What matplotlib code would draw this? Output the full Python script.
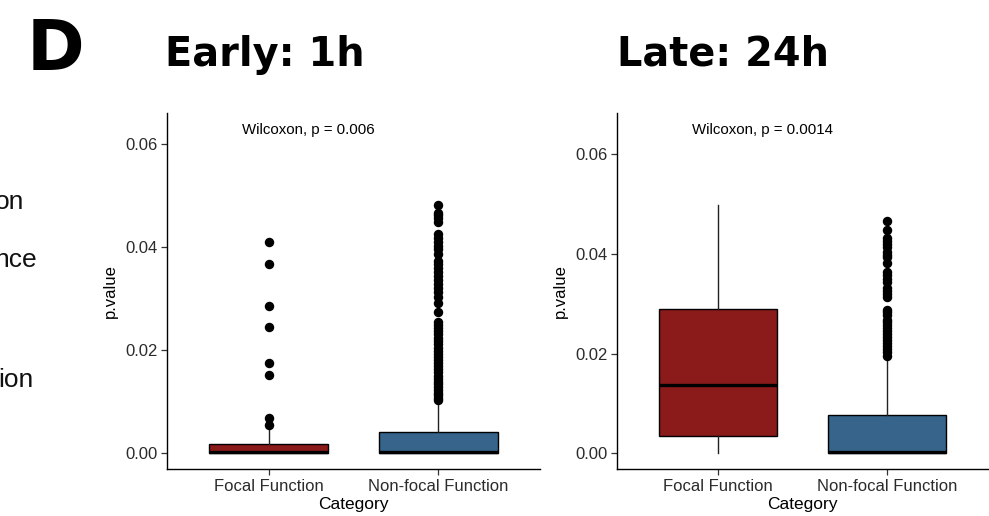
import matplotlib
matplotlib.use("Agg")
import matplotlib.pyplot as plt

# ---- data -------------------------------------------------------------
categories = ["Focal Function", "Non-focal Function"]
box_colors = ["#8B1A1A", "#36648B"]

# Early: 1h
early_q1 = [0.0, 0.0]
early_med = [0.0003, 0.0002]
early_q3 = [0.0019, 0.0041]
early_whislo = [0.0, 0.0]
early_whishi = [0.0048, 0.0100]
early_fliers_focal = [0.0055, 0.0069, 0.0153, 0.0175, 0.0245, 0.0287, 0.0367, 0.0410]
early_fliers_nonfocal = [
    0.0104, 0.0108, 0.0113, 0.0118, 0.0123, 0.0128, 0.0134, 0.0139, 0.0145,
    0.0151, 0.0157, 0.0163, 0.0169, 0.0175, 0.0181, 0.0187, 0.0193, 0.0199,
    0.0205, 0.0212, 0.0218, 0.0224, 0.0231, 0.0237, 0.0243, 0.0249, 0.0255,
    0.0274, 0.0292, 0.0304, 0.0314, 0.0321, 0.0329, 0.0336, 0.0344, 0.0352,
    0.0360, 0.0367, 0.0373, 0.0387, 0.0396, 0.0402, 0.0410, 0.0418, 0.0426,
    0.0449, 0.0457, 0.0462, 0.0466, 0.0482,
]
early_label = "Wilcoxon, p = 0.006"

# Late: 24h
late_q1 = [0.0035, 0.0]
late_med = [0.0137, 0.0002]
late_q3 = [0.0290, 0.0077]
late_whislo = [0.0, 0.0]
late_whishi = [0.0498, 0.0192]
late_fliers_focal = []
late_fliers_nonfocal = [
    0.0195, 0.0203, 0.0209, 0.0215, 0.0221, 0.0228, 0.0234, 0.0240, 0.0246,
    0.0252, 0.0258, 0.0263, 0.0268, 0.0278, 0.0283, 0.0288, 0.0314, 0.0320,
    0.0326, 0.0332, 0.0344, 0.0350, 0.0357, 0.0364, 0.0382, 0.0394, 0.0399,
    0.0404, 0.0414, 0.0420, 0.0426, 0.0432, 0.0448, 0.0467,
]
late_label = "Wilcoxon, p = 0.0014"

yticks = [0.00, 0.02, 0.04, 0.06]
ytick_labels = ["0.00", "0.02", "0.04", "0.06"]

# ---- figure -----------------------------------------------------------
plt.rcParams["font.family"] = ["Liberation Sans", "DejaVu Sans"]
fig = plt.figure(figsize=(9.89, 5.16), dpi=100)

TEXT_GREY = "#2b2b2b"


def draw_panel(ax, q1, med, q3, wlo, whi, fliers, label, ylim, label_y):
    stats = []
    for i in range(len(categories)):
        stats.append(dict(q1=q1[i], med=med[i], q3=q3[i],
                          whislo=wlo[i], whishi=whi[i], fliers=fliers[i]))
    bp = ax.bxp(stats, positions=[1, 2], widths=0.7, patch_artist=True,
                showcaps=False,
                boxprops=dict(edgecolor="black", linewidth=1.0),
                medianprops=dict(color="black", linewidth=2.4),
                whiskerprops=dict(color="#222222", linewidth=1.0),
                flierprops=dict(marker="o", markerfacecolor="black",
                                markeredgecolor="black", markersize=5.8))
    for patch, c in zip(bp["boxes"], box_colors):
        patch.set_facecolor(c)
    ax.set_xlim(0.4, 2.6)
    ax.set_ylim(*ylim)
    ax.set_xticks([1, 2])
    ax.set_xticklabels(categories)
    ax.set_yticks(yticks)
    ax.set_yticklabels(ytick_labels)
    for s in ("top", "right"):
        ax.spines[s].set_visible(False)
    for s in ("left", "bottom"):
        ax.spines[s].set_linewidth(1.0)
        ax.spines[s].set_color("black")
    ax.tick_params(axis="both", direction="out", length=4, width=0.9,
                   color="#333333", labelsize=12, labelcolor=TEXT_GREY, pad=3)
    ax.set_xlabel("Category", fontsize=12.5, labelpad=2, color="black")
    ax.set_ylabel("p.value", fontsize=12, labelpad=5, color="black")
    ax.text(0.845, label_y, label, fontsize=10.8, ha="left", va="center",
            color="black")


ax1 = fig.add_axes([167 / 989, 1 - 469 / 516, 373 / 989, 356 / 516])
draw_panel(ax1, early_q1, early_med, early_q3, early_whislo, early_whishi,
           [early_fliers_focal, early_fliers_nonfocal], early_label,
           (-0.00305, 0.0661), 0.0628)

ax2 = fig.add_axes([617 / 989, 1 - 469 / 516, 371 / 989, 356 / 516])
draw_panel(ax2, late_q1, late_med, late_q3, late_whislo, late_whishi,
           [late_fliers_focal, late_fliers_nonfocal], late_label,
           (-0.00315, 0.0683), 0.0649)

# panel letter and titles
fig.text(27 / 989, 1 - 70 / 516, "D", fontsize=50, fontweight="bold",
         family="DejaVu Sans", ha="left", va="baseline")
fig.text(165 / 989, 1 - 66 / 516, "Early: 1h", fontsize=28.7, fontweight="bold",
         family="DejaVu Sans", ha="left", va="baseline")
fig.text(617 / 989, 1 - 65 / 516, "Late: 24h", fontsize=28.7, fontweight="bold",
         family="DejaVu Sans", ha="left", va="baseline")

# legend text tails running in from the neighbouring panel
fig.text(24 / 989, 1 - 209 / 516, "on", fontsize=19, ha="right",
         va="baseline", color="#111111")
fig.text(37 / 989, 1 - 267 / 516, "nce", fontsize=19, ha="right",
         va="baseline", color="#111111")
fig.text(34 / 989, 1 - 387 / 516, "ion", fontsize=19, ha="right",
         va="baseline", color="#111111")

fig.savefig("out.png", dpi=100)
